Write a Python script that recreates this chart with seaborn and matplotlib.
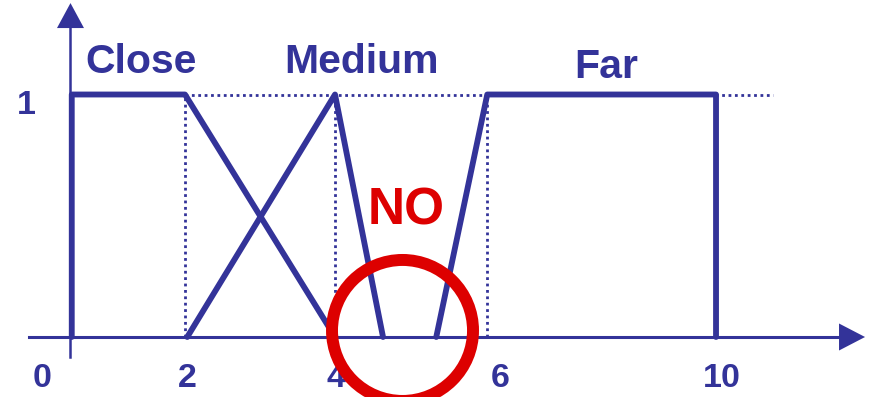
import pandas as pd
import seaborn as sns
import matplotlib.pyplot as plt
from matplotlib.patches import Ellipse

# membership functions (x in chart units, y = degree of membership)
close_x = [0.49, 0.49, 2.0, 4.0]
close_y = [0, 1, 1, 0]
medium_x = [2.03, 4.0, 4.64]
medium_y = [0, 1, 0]
far_x = [5.35, 6.03, 9.08, 9.08]
far_y = [0, 1, 1, 0]

set_names = ['Close', 'Medium', 'Far']
label_x = [0.67, 4.35, 7.61]
label_y = [1.089, 1.089, 1.068]

xtick_pos = [0.09, 2.03, 4.01, 6.2, 9.16]
xtick_labels = ['0', '2', '4', '6', '10']
ytick_pos = [0.97]
ytick_labels = ['1']

guide_x = [2.0, 4.0, 6.03]   # dotted verticals
guide_end = 9.84             # dotted y=1 line ends here

blue = '#333399'
red = '#dd0000'

df = pd.concat([
    pd.DataFrame({'x': close_x, 'y': close_y, 'set': 'Close'}),
    pd.DataFrame({'x': medium_x, 'y': medium_y, 'set': 'Medium'}),
    pd.DataFrame({'x': far_x, 'y': far_y, 'set': 'Far'}),
])

sns.set_style('white')
plt.rcParams['font.family'] = ['Liberation Sans', 'DejaVu Sans']
plt.rcParams['font.weight'] = 'bold'

fig = plt.figure(figsize=(8.7, 3.97), dpi=100)
ax = fig.add_axes([0, 0, 1, 1])
ax.set_xlim(-0.4667, 11.133)
ax.set_ylim(-0.2474, 1.3897)

# dotted guides
dot = (0, (1, 1.3))
ax.plot([guide_x[0], guide_end], [1, 1], color=blue, lw=2, ls=dot, zorder=1)
for gx in guide_x:
    ax.plot([gx, gx], [0, 1], color=blue, lw=2, ls=dot, zorder=1)

sns.lineplot(data=df, x='x', y='y', units='set', estimator=None, sort=False,
             color=blue, lw=4.2, ax=ax, zorder=3)

for name, lx, ly in zip(set_names, label_x, label_y):
    ha = 'left' if name == 'Close' else 'center'
    ax.text(lx, ly, name, color=blue, fontsize=29.5, fontweight='bold',
            ha=ha, va='baseline')

# the gap between Medium and Far
ax.text(4.95, 0.462, 'NO', color=red, fontsize=37, fontweight='bold',
        ha='center', va='baseline', zorder=5)
ax.add_patch(Ellipse((4.9, 0.027), 2 * 70.5 / 75, 2 * 70.5 / 242.5,
                     fill=False, ec=red, lw=8.6, zorder=4))

# axes with arrow heads
ax.spines['top'].set_visible(False)
ax.spines['right'].set_visible(False)
ax.spines['bottom'].set_position(('data', 0))
ax.spines['left'].set_position(('data', 0.473))
ax.spines['bottom'].set_bounds(-0.08, 10.75)
ax.spines['left'].set_bounds(-0.082, 1.29)
ax.spines['bottom'].set_color(blue)
ax.spines['left'].set_color(blue)
ax.spines['bottom'].set_linewidth(2.2)
ax.spines['left'].set_linewidth(1.8)
ax.fill([10.72, 11.067, 10.72], [0.0557, 0, -0.0557], color=blue, lw=0, zorder=2)
ax.fill([0.473 - 0.18, 0.473, 0.473 + 0.18], [1.274, 1.377, 1.274], color=blue, lw=0, zorder=2)

ax.set_xticks(xtick_pos, xtick_labels)
ax.set_yticks(ytick_pos, ytick_labels)
ax.tick_params(axis='x', length=0, pad=18.5, labelsize=24.5, labelcolor=blue)
ax.tick_params(axis='y', length=0, pad=25, labelsize=24.5, labelcolor=blue)
for t in ax.get_xticklabels() + ax.get_yticklabels():
    t.set_fontweight('bold')
ax.set_xlabel('')
ax.set_ylabel('')
ax.patch.set_alpha(0)

fig.savefig('out.png', dpi=100)
